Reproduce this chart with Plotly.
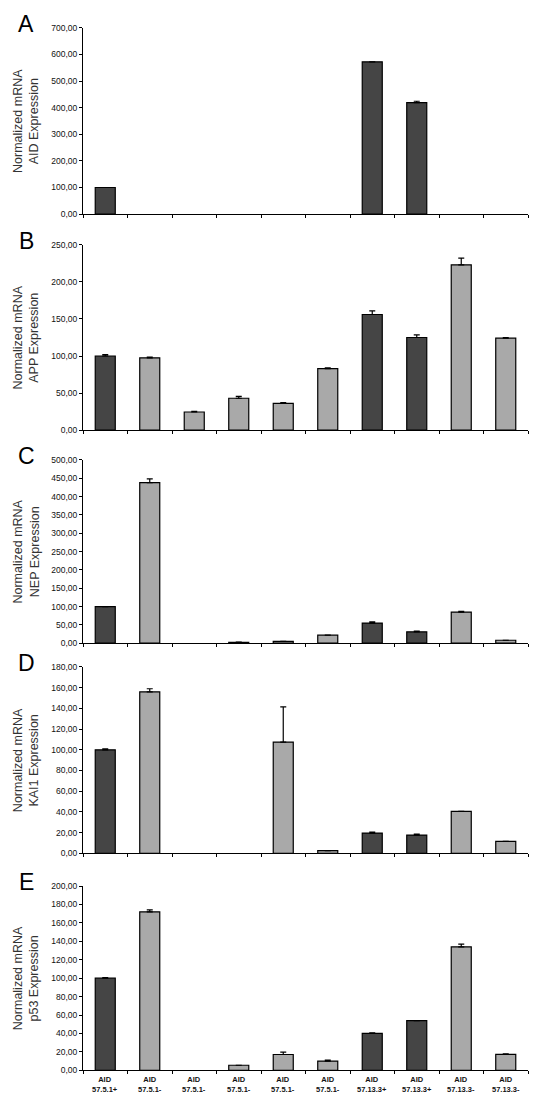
import plotly.graph_objects as go

# sample labels (shared by all five panels)
samples = [
    "57.5.1+", "57.5.1-", "57.5.1-", "57.5.1-", "57.5.1-",
    "57.5.1-", "57.13.3+", "57.13.3+", "57.13.3-", "57.13.3-",
]

aid_vals = [100, 0, 0, 0, 0, 0, 572, 419, 0, 0]
aid_err = [0, 0, 0, 0, 0, 0, 0, 5, 0, 0]

app_vals = [100, 97.5, 24.5, 43, 36, 83, 156, 125, 223, 124]
app_err = [2, 1, 1, 2.5, 1, 1, 5, 3.5, 9, 1]

nep_vals = [100, 438, 0, 2, 5, 22, 55, 31, 85, 8]
nep_err = [0, 10, 0, 1, 0, 0, 3, 2, 2, 0]

kai1_vals = [100, 156, 0, 0, 107.5, 2.6, 19.5, 17.6, 40.5, 11.5]
kai1_err = [0.8, 3, 0, 0, 34, 0, 1, 1, 0, 0]

p53_vals = [100, 172, 0, 5.5, 17.2, 10, 40, 54, 134, 17.3]
p53_err = [0.7, 2, 0, 0, 2.5, 1, 0.7, 0, 3, 0.5]

panel_letters = ["A", "B", "C", "D", "E"]
genes = ["AID", "APP", "NEP", "KAI1", "p53"]
y_max = [700, 250, 500, 180, 200]
y_step = [100, 50, 50, 20, 20]

panels = [
    (aid_vals, aid_err),
    (app_vals, app_err),
    (nep_vals, nep_err),
    (kai1_vals, kai1_err),
    (p53_vals, p53_err),
]

H = 1112
W = 550
# plot area tops / bottoms in pixels
tops = [23, 242, 459, 668, 889]
bottoms = [211, 429, 644, 856, 1075]
x0, x1 = 83, 528

DARK = "#454545"
LIGHT = "#a9a9a9"
colors = [DARK if s.endswith("+") else LIGHT for s in samples]

fig = go.Figure()
annotations = []

for i, ((vals, err), letter, gene) in enumerate(zip(panels, panel_letters, genes)):
    n = "" if i == 0 else str(i + 1)
    # empty bars and zero errors draw nothing in the original
    fig.add_trace(
        go.Bar(
            x=list(range(len(samples))),
            y=[v if v > 0 else None for v in vals],
            marker=dict(color=colors, line=dict(color="black", width=1.2)),
            error_y=dict(
                type="data",
                array=[e if e > 0 else None for e in err],
                arrayminus=[0] * len(err),
                symmetric=False,
                color="black",
                thickness=1.2,
                width=3,
            ),
            xaxis="x" + n,
            yaxis="y" + n,
            showlegend=False,
            hoverinfo="skip",
        )
    )
    ticks = list(range(0, y_max[i] + 1, y_step[i]))
    fig.update_layout(
        {
            "xaxis" + n: dict(
                domain=[x0 / W, x1 / W],
                range=[-0.5, len(samples) - 0.5],
                tickvals=[k - 0.5 for k in range(len(samples) + 1)],
                ticktext=[""] * (len(samples) + 1),
                ticks="outside",
                ticklen=3,
                tickcolor="black",
                showline=True,
                linecolor="black",
                linewidth=1,
                showgrid=False,
                zeroline=False,
                anchor="y" + n,
                fixedrange=True,
            ),
            "yaxis" + n: dict(
                domain=[1 - bottoms[i] / H, 1 - tops[i] / H],
                range=[0, y_max[i]],
                tickvals=ticks,
                ticktext=[f"{t},00" for t in ticks],
                ticks="outside",
                ticklen=3,
                tickcolor="black",
                tickfont=dict(family="Liberation Sans", size=8.5, color="#111"),
                showline=True,
                linecolor="black",
                linewidth=1,
                showgrid=False,
                zeroline=False,
                anchor="x" + n,
                fixedrange=True,
            ),
        }
    )
    mid = 1 - (tops[i] + bottoms[i]) / 2 / H
    annotations.append(
        dict(
            text=f"Normalized mRNA<br>{gene} Expression",
            x=26 / W,
            y=mid,
            xref="paper",
            yref="paper",
            textangle=-90,
            showarrow=False,
            font=dict(family="Liberation Sans", size=12.5, color="#333"),
            xanchor="center",
            yanchor="middle",
        )
    )
    annotations.append(
        dict(
            text=letter,
            x=26 / W,
            y=1 - (tops[i] - 4) / H,
            xref="paper",
            yref="paper",
            showarrow=False,
            font=dict(family="Liberation Sans", size=23, color="black"),
            xanchor="center",
            yanchor="middle",
        )
    )

# category labels under the last panel
for k, s in enumerate(samples):
    annotations.append(
        dict(
            text=f"<b>AID</b><br><b>{s}</b>",
            x=k,
            y=1 - (bottoms[-1] + 3) / H,
            xref="x5",
            yref="paper",
            showarrow=False,
            font=dict(family="Liberation Sans", size=7.5, color="#111"),
            xanchor="center",
            yanchor="top",
        )
    )

fig.update_layout(
    width=W,
    height=H,
    margin=dict(l=0, r=0, t=0, b=0),
    plot_bgcolor="white",
    paper_bgcolor="white",
    bargap=0.55,
    annotations=annotations,
)

# page body has a default 8px margin, drop it so the figure fills the window
fig.write_html(
    "out.html",
    config={"displayModeBar": False},
    post_script="document.body.style.margin='0';",
)
